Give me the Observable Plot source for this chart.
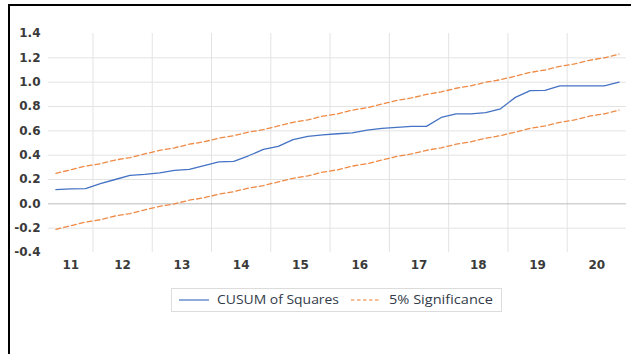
<!DOCTYPE html>
<html>
<head>
<meta charset="utf-8">
<script src="https://cdn.jsdelivr.net/npm/d3@7"></script>
<script src="https://cdn.jsdelivr.net/npm/@observablehq/plot@0.6"></script>
<style>
  html, body { margin: 0; padding: 0; background: #fff; }
  body { width: 631px; height: 354px; overflow: hidden; position: relative; font-family: "DejaVu Sans", sans-serif; }
  #frame { position: absolute; left: 7.5px; top: 4px; width: 700px; height: 400px;
           border-top: 2.5px solid #000; border-left: 2.5px solid #000; box-sizing: border-box; }
  #chart { position: absolute; left: 0; top: 0; }
  #chart svg text { font-family: "DejaVu Sans", sans-serif; font-weight: bold; font-size: 12px; fill: #3a3a3a; }
  #legend { position: absolute; left: 171px; top: 288px; width: 331px; height: 24px;
            border: 1px solid #dcdcdc; box-sizing: border-box; }
  #legend .swatch { position: absolute; top: 0; height: 22px; }
  #legend .label { position: absolute; top: 3px; font-size: 12px; line-height: 16px; color: #333b4a;
                   font-family: "Open Sans", sans-serif; transform-origin: 0 50%; white-space: nowrap; }
</style>
</head>
<body>
<div id="frame"></div>
<div id="chart"></div>
<div id="legend"></div>
<script>
// Quarterly sample, 2011Q2 – 2020Q4
const quarters = [
  "2011Q2","2011Q3","2011Q4",
  "2012Q1","2012Q2","2012Q3","2012Q4",
  "2013Q1","2013Q2","2013Q3","2013Q4",
  "2014Q1","2014Q2","2014Q3","2014Q4",
  "2015Q1","2015Q2","2015Q3","2015Q4",
  "2016Q1","2016Q2","2016Q3","2016Q4",
  "2017Q1","2017Q2","2017Q3","2017Q4",
  "2018Q1","2018Q2","2018Q3","2018Q4",
  "2019Q1","2019Q2","2019Q3","2019Q4",
  "2020Q1","2020Q2","2020Q3","2020Q4"
];

// CUSUM of squares statistic
const cusumSq = [
  0.117, 0.123, 0.125,
  0.166, 0.200, 0.234, 0.242,
  0.255, 0.275, 0.283, 0.315,
  0.345, 0.349, 0.395, 0.447,
  0.472, 0.527, 0.554, 0.567,
  0.576, 0.583, 0.605, 0.621,
  0.628, 0.636, 0.637, 0.710,
  0.740, 0.740, 0.749, 0.781,
  0.875, 0.930, 0.932, 0.970,
  0.970, 0.970, 0.970, 1.000
];

// 5% significance bounds
const upperBound = [
  0.25, 0.28, 0.31,
  0.33, 0.36, 0.38, 0.41,
  0.44, 0.46, 0.49, 0.51,
  0.54, 0.56, 0.59, 0.61,
  0.64, 0.67, 0.69, 0.72,
  0.74, 0.77, 0.79, 0.82,
  0.85, 0.87, 0.90, 0.92,
  0.95, 0.97, 1.00, 1.02,
  1.05, 1.08, 1.10, 1.13,
  1.15, 1.18, 1.20, 1.23
];
const lowerBound = [
  -0.21, -0.18, -0.15,
  -0.13, -0.10, -0.08, -0.05,
  -0.02, 0.00, 0.03, 0.05,
  0.08, 0.10, 0.13, 0.15,
  0.18, 0.21, 0.23, 0.26,
  0.28, 0.31, 0.33, 0.36,
  0.39, 0.41, 0.44, 0.46,
  0.49, 0.51, 0.54, 0.56,
  0.59, 0.62, 0.64, 0.67,
  0.69, 0.72, 0.74, 0.77
];

const yearLabels = ["11","12","13","14","15","16","17","18","19","20"];
const yTicks = [-0.4, -0.2, 0, 0.2, 0.4, 0.6, 0.8, 1.0, 1.2, 1.4];
const seriesNames = ["CUSUM of Squares", "5% Significance"];
const colors = { cusum: "#4472c4", bound: "#ed7d31" };

const rows = quarters.map((q, i) => ({
  i, q, year: q.slice(2, 4),
  cusum: cusumSq[i], upper: upperBound[i], lower: lowerBound[i]
}));

// Gridlines sit between years; year labels are centred on each year's quarters
const boundaries = [];
for (let i = 1; i < rows.length; i++) if (rows[i].year !== rows[i - 1].year) boundaries.push(i - 0.5);
const yearSpans = yearLabels.map(label => {
  const idx = rows.filter(r => r.year === label).map(r => r.i);
  return { label, pos: (d3.min(idx) + d3.max(idx)) / 2 };
});

const grid = "#e3e3e3";
const chart = Plot.plot({
  width: 631,
  height: 280,
  marginLeft: 48,
  marginRight: 5,
  marginTop: 33,
  marginBottom: 28,
  style: { background: "transparent", overflow: "visible" },
  x: { domain: [-0.5, quarters.length - 0.5], axis: null },
  y: { domain: [-0.4, 1.4], axis: null },
  marks: [
    Plot.ruleY(yTicks.filter(v => v !== 0 && v > -0.4 && v < 1.4), { stroke: grid, strokeWidth: 1 }),
    Plot.ruleX(boundaries, { stroke: grid, strokeWidth: 1 }),
    Plot.ruleY([0], { stroke: "#bdbdbd", strokeWidth: 1 }),
    Plot.axisY(yTicks, { tickSize: 0, tickPadding: 8, tickFormat: v => v.toFixed(1), label: null }),
    Plot.text(yearSpans, { x: "pos", text: "label", frameAnchor: "bottom", lineAnchor: "top", dy: 8 }),
    Plot.line(rows, { x: "i", y: "upper", stroke: colors.bound, strokeWidth: 1.3, strokeDasharray: "5,3", strokeOpacity: 0.9 }),
    Plot.line(rows, { x: "i", y: "lower", stroke: colors.bound, strokeWidth: 1.3, strokeDasharray: "5,3", strokeOpacity: 0.9 }),
    Plot.line(rows, { x: "i", y: "cusum", stroke: colors.cusum, strokeWidth: 1.3 })
  ]
});
document.getElementById("chart").appendChild(chart);

// Legend below the plot
const legend = document.getElementById("legend");
const items = [
  { name: seriesNames[0], color: colors.cusum, dash: null, sx: 7, tx: 45, w: 122 },
  { name: seriesNames[1], color: colors.bound, dash: "3.5,2.5", sx: 179, tx: 217, w: 104 }
];
for (const it of items) {
  const sw = document.createElementNS("http://www.w3.org/2000/svg", "svg");
  sw.setAttribute("class", "swatch");
  sw.setAttribute("width", 31);
  sw.setAttribute("height", 22);
  sw.style.left = it.sx + "px";
  const ln = document.createElementNS("http://www.w3.org/2000/svg", "line");
  ln.setAttribute("x1", 0); ln.setAttribute("x2", 30);
  ln.setAttribute("y1", 11); ln.setAttribute("y2", 11);
  ln.setAttribute("stroke", it.color);
  ln.setAttribute("stroke-width", 1.2);
  if (it.dash) ln.setAttribute("stroke-dasharray", it.dash);
  sw.appendChild(ln);
  legend.appendChild(sw);
  const t = document.createElement("span");
  t.className = "label";
  t.textContent = it.name;
  t.style.left = it.tx + "px";
  legend.appendChild(t);
  const natural = t.getBoundingClientRect().width;
  t.style.transform = `scaleX(${it.w / natural})`;
}
</script>
</body>
</html>
